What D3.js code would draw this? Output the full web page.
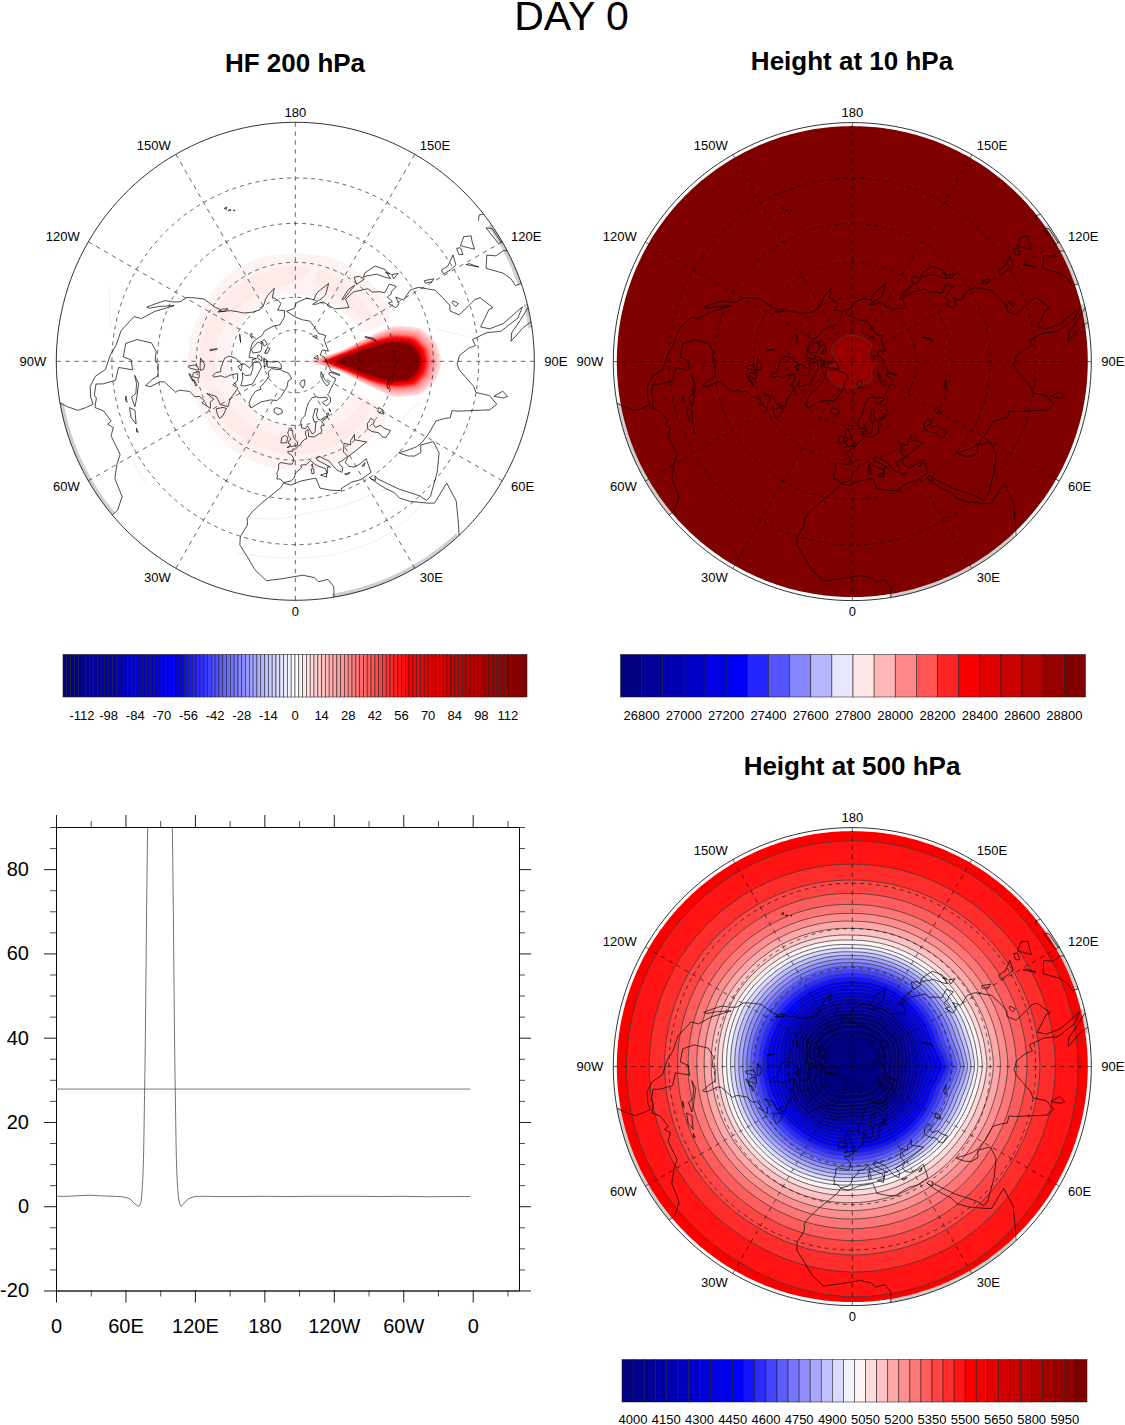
<!DOCTYPE html>
<html><head><meta charset="utf-8">
<script src="https://cdnjs.cloudflare.com/ajax/libs/d3/7.8.5/d3.min.js"></script>
<style>html,body{margin:0;padding:0;background:#fff}svg{display:block}text{font-family:"Liberation Sans",Arial,sans-serif;fill:#000}</style>
</head><body><script>
// ---------- coastlines [lon,lat] ----------
const coastEurasia=[[-5.5,36],[-6.3,36.6],[-7.4,37.2],[-8.9,37],[-8.8,38.5],[-9.4,38.8],[-8.8,41],[-9.2,43],[-8,43.7],[-4,43.4],[-1.8,43.4],[-1.2,44.5],[-1.1,46],[-2.2,47],[-4.7,48],[-4.7,48.6],[-1.6,48.7],[-1.6,49.7],[0.2,49.6],[1.6,50.8],[3.5,51.4],[4.5,52.5],[6.5,53.4],[8.6,53.9],[8.1,55.5],[8.2,57],[10.5,57.7],[10.4,56.2],[10,54.6],[12,54.2],[14.2,53.9],[18.6,54.7],[19.8,54.5],[21,55.5],[21,57],[22.5,57.7],[24.4,57.2],[24.2,58.4],[23.5,59.2],[28,59.5],[30,60],[28,60.5],[23,60],[21.4,60.8],[21.5,62.8],[25.3,65.2],[22.2,65.7],[21.2,64.8],[17.5,62.5],[17.2,60.7],[18.8,59.8],[16.6,57.5],[16,56.2],[14.3,55.5],[12.9,55.4],[12.6,56.3],[11.2,58.5],[10.6,59.3],[8.5,58.2],[5.6,58.7],[5,61],[6,62.5],[10,64],[14,67.5],[18,69.5],[25,71],[31,70.3],[33,69.4],[41,67.5],[40.5,66.4],[35,66.7],[33,66.5],[35,64.3],[38,64.5],[40.5,64.6],[44,66],[44,68],[46,68],[53,68.8],[60,69],[65,69],[67,69.5],[67,71],[69,73],[72.5,72.8],[72.5,71],[72,68],[73.5,68],[74,71.5],[75,72.5],[80,73.5],[87,75],[98,76],[104,77.7],[113,76],[107,73.5],[113,73.6],[127,72.8],[130,71],[140,72.7],[150,71.5],[160,69.7],[170,70],[180,69],[190,66],[181,65],[179,62.5],[170,60],[163,59.8],[163,58],[162,56],[156.8,51],[155.5,56],[157,58],[163,62],[160,61.5],[155,59.3],[143,59.3],[135,54.7],[141,53],[140,48.5],[135,43.5],[132,43.2],[129.7,41],[127.5,39.5],[129.4,36],[126.5,34.5],[126,37],[125,38],[125,39.7],[121.5,39],[122,40.7],[118,39],[119,37.2],[122.5,37],[119.5,35],[121.8,31],[121,28],[117,23.5],[113.5,22.3],[110,21],[108,21.5],[105.8,19],[109,13],[109,11.5],[105.2,8.8],[105,10],[100.5,13.5],[99.5,11],[100.3,7],[103.5,1.3],[101,3],[98.3,8],[98.5,12],[97,16.5],[95,15.8],[94.3,18],[92,21],[89,21.8],[87,21],[82,16],[80.2,15],[80,11],[78,8.5],[76,10],[73,19],[72.5,21],[70,20.8],[69,22.5],[67,24.8],[61,25.2],[57,25.7],[54.5,26.5],[51,28.5],[48.5,30],[50,26.7],[51.5,25],[54,24],[56.3,25.5],[59.8,22.5],[57.5,19],[52,16],[45,12.7],[43.3,12.7],[42.8,15],[39,21],[35,28],[34.8,29.5],[34,28],[33,29],[32.6,30]];
const coastMedNorth=[[32.3,31.2],[34.3,31.3],[36,36.5],[32,36.2],[29,36.3],[27,37.5],[26.3,39.5],[29,41],[31.5,41.2],[36,41.5],[41.5,41.5],[38,44.5],[37,45.4],[39,47],[35,46],[33.5,44.5],[30.7,46.5],[28,43.5],[28.9,41.2],[26,40.7],[23,40.5],[24,38],[22.8,36.5],[21,38],[19.4,41],[18.8,42.3],[14.5,45.2],[13.5,45.6],[12.3,45],[12.6,44],[16,41.8],[18.4,40],[16.9,40.4],[16,38],[15.6,40],[12.3,41.7],[10.5,42.9],[8.8,44.4],[6,43],[3.2,43],[3.2,41.8],[0,39.8],[-0.5,38],[-2,36.8],[-5.5,36]];
const coastAfrica=[[32.3,31.2],[29,31],[25,31.7],[20,31],[19.5,30.3],[15.5,31.5],[11,33.2],[10,37.2],[3,36.8],[-2,35.2],[-5.5,35.8],[-6.5,34],[-9.8,31],[-13,27.7],[-16,23.5],[-17,21],[-16.3,19],[-17.4,14.8],[-16.8,12.5],[-13.5,9.5],[-11,6.8],[-7.5,4.4],[-4,5.2],[2,6.3],[5,5.5],[6,4.3],[8.5,4.6],[9.7,2.5],[9.3,0],[9,-2]];
const coastAfricaEast=[[32.6,30],[33.8,27],[35.5,23.5],[37,21],[37.3,18.5],[39.5,15.5],[43.3,11.6],[44.5,10.5],[51.2,11.8],[49,6.5],[45,2],[41.5,-2]];
const coastNorthAmerica=[[-168,65.5],[-166,68.5],[-157,71.2],[-148,70.3],[-135,69.5],[-128,70],[-115,68],[-108,68],[-95,68],[-94,71.5],[-92,69.5],[-85,69.5],[-82,68],[-87,66],[-87,64.5],[-93,62],[-94.5,59],[-92.5,57],[-85,55.3],[-82,55],[-82,52.9],[-80,51.3],[-79,52],[-79,54.8],[-77,56.5],[-78,58.7],[-78,62.3],[-72,61.5],[-70,60],[-69.5,58.8],[-65,60.3],[-62,57.5],[-60,55],[-56,52.5],[-60,50.2],[-66,50.2],[-70,47],[-65,48.8],[-64.5,47],[-61,45.8],[-66,43.7],[-66.5,45],[-70,43.7],[-70.5,42],[-74,40.7],[-75.5,38],[-76,36.8],[-75.5,35.3],[-78,33.9],[-81,32],[-81.4,30.5],[-80.1,26.7],[-80.8,25.2],[-82.7,27.7],[-84,30],[-89,30.3],[-90,29.2],[-94,29.5],[-97.3,27.5],[-97.8,22.5],[-96,19],[-91.5,18.5],[-90.5,21],[-87,21.5],[-88,17],[-84,15.8],[-83.3,12],[-83.5,10],[-80.5,9.1],[-79.5,9.5],[-77,8.6],[-75.5,10.7],[-72,12],[-71.5,10.7],[-70,12],[-68,10.5],[-62,10.6],[-60,8.5],[-57,6],[-52,4.8],[-50,1.7],[-50,0],[-48,-0.7]];
const coastAmericaWest=[[-80.5,-1],[-80,0],[-78.8,1.5],[-77.3,4],[-77.5,6],[-78,8.3],[-80,8],[-83,8.3],[-85.7,10],[-87.5,13],[-92,14.5],[-95,16],[-100,17],[-105.5,20],[-105.5,22.5],[-109.5,26],[-112.5,29.5],[-114.7,31.7],[-112,27],[-110,24],[-110,23],[-112,25],[-115,28],[-116,31],[-117.3,33],[-120.5,34.5],[-122.5,37.5],[-124.3,40.4],[-124,46],[-124.7,48.4],[-122.5,48],[-125,50],[-128,52],[-130.5,54.5],[-133,57],[-137,58.8],[-140,59.8],[-146,60.7],[-150,60],[-152,59.2],[-154,58],[-158,56.5],[-164,54.7],[-160,58.5],[-162,59],[-165,61],[-166,62],[-161,64.5],[-168,65.5]];
const coastIslands=[
[[-73,78.2],[-68,76],[-60,75.5],[-55,72],[-54,69.5],[-51,69],[-53,66.5],[-51,63.5],[-48,60.8],[-43.5,59.9],[-40,65],[-33,68.2],[-25,69.5],[-22,72],[-20,75],[-18,77],[-20,80],[-12,81.5],[-30,83.5],[-50,82.5],[-62,81.8],[-65,80.5],[-73,78.2]],
[[-22.5,64],[-24,65.4],[-22,66.4],[-16,66.4],[-14,65],[-18,63.5],[-22.5,64]],
[[-5.5,50.1],[-3,50.7],[1.3,51.2],[1.7,52.7],[0,53.5],[-1.5,55],[-2,56],[-2,57.6],[-4,57.6],[-3,58.6],[-5,58.6],[-6,56.5],[-5,55],[-3,54],[-4.5,53.2],[-5,52],[-3,51.4],[-5.5,50.1]],
[[-6,52.2],[-10,51.7],[-10,54.2],[-8,55.2],[-5.7,54.6],[-6,52.2]],
[[-80,73.7],[-72,71.5],[-68,70],[-62,67],[-64,63.5],[-66,62],[-72,64],[-78,64.5],[-74,65.5],[-73,68],[-80,69.5],[-88,70],[-89,73],[-80,73.7]],
[[-117,70],[-105,68.5],[-101,69.5],[-105,72.7],[-110,73],[-118,72],[-117,70]],
[[-125,72],[-120,71.5],[-116,73.5],[-122,74.3],[-125,72]],
[[-90,76.5],[-78,76.5],[-75,79],[-62,82.5],[-75,83],[-90,82],[-88,79],[-90,76.5]],
[[-95,75],[-80,75],[-80,75.7],[-92,76.5],[-95,75]],
[[-117,75.2],[-105,75],[-106,76.2],[-117,76.3],[-117,75.2]],
[[-100,72],[-95,72],[-90,74],[-97,74],[-100,72]],
[[-87,65],[-80,64],[-85,63],[-87,65]],
[[-59,47.7],[-55.5,46.9],[-53,46.7],[-53,48.5],[-55.7,51.5],[-57.5,50.5],[-59,47.7]],
[[-85,22],[-82,23],[-77,21.5],[-74.2,20.2],[-77.7,19.9],[-78.5,21.5],[-82,22.3],[-85,22]],
[[-74.4,18.5],[-73,19.9],[-68.5,18.8],[-71,18],[-74.4,18.5]],
[[-78.4,18.2],[-76.3,18.2],[-77,17.8],[-78.4,18.2]],
[[-67.2,18.4],[-65.7,18.4],[-66,18],[-67.2,18.4]],
[[-156,19.5],[-155,19.6],[-155.7,20.2],[-156,19.5]],
[[-158.2,21.4],[-157.7,21.4],[-158,21.7],[-158.2,21.4]],
[[-157,21],[-156,20.8],[-156.5,20.6],[-157,21]],
[[-128,50.7],[-125,50],[-123.5,48.4],[-125.5,48.8],[-128,50.7]],
[[52,71],[57,70.7],[58,73.5],[68,76.7],[60,76],[55,74],[52,71]],
[[11,79],[16,76.7],[22,78],[27,80],[18,80.3],[11,79]],
[[95,79],[105,79],[100,81],[95,79]],
[[137,75],[145,75.5],[140,74],[137,75]],
[[142,46],[143.5,49],[143,54],[142,53.5],[142,46]],
[[140,41.7],[141.5,45.3],[145,43.5],[143,42],[140,41.7]],
[[132,34.3],[135.5,33.5],[140,35],[141.8,39.5],[141,41.3],[140,40],[137,37],[133,35.5],[131,34.3],[132,34.3]],
[[130,33.5],[132,33],[130.5,31],[130,33.5]],
[[132.5,33.3],[134.5,34.2],[134,33.5],[132.5,33.3]],
[[120.2,23],[121,25.2],[122,25],[120.8,22],[120.2,23]],
[[108.8,19.3],[110.5,20],[111,19.5],[109.5,18.2],[108.8,19.3]],
[[120.5,16],[120.5,18.5],[122,18.4],[122,16],[124,13],[121,13.8],[120.5,16]],
[[122,7],[125,9.7],[126.5,7.5],[125.5,5.8],[124,6.5],[122,7]],
[[122.5,10.5],[123.2,11.5],[125,11],[124.5,10],[122.5,10.5]],
[[117.2,8.4],[119.5,11.2],[119.3,10.3],[117.2,8.4]],
[[80,9.7],[81.8,7.5],[80.6,6],[80,7],[80,9.7]],
[[12.5,38],[15.6,38.2],[15.1,36.7],[12.5,38]],
[[8.3,41],[9.7,41],[9.6,39.2],[8.5,39],[8.3,41]],
[[8.7,42.5],[9.5,43],[9.4,41.5],[8.7,42.5]],
[[23.6,35.5],[26.3,35.2],[24.5,34.9],[23.6,35.5]],
[[32.4,35],[34.5,35.6],[33.5,34.7],[32.4,35]],
[[47,45],[49,46.5],[53,46.8],[53,45],[51,44.5],[50.5,43],[53,42],[53,40],[54,37.5],[50,37.3],[49,38.5],[49.5,40.5],[47.5,43],[47,45]],
[[58.5,46],[61,46.5],[61,44.5],[59,43.5],[58.5,46]],
[[73.5,46],[75,46.8],[79,46.5],[74,45.5],[73.5,46]],
[[-92,46.7],[-88,48.5],[-85,47.8],[-84.5,46.5],[-87,46.5],[-92,46.7]],
[[-87.5,41.7],[-88,45],[-85,46],[-85,45],[-86.5,42],[-87.5,41.7]],
[[-84,46],[-80,45.5],[-81.5,43],[-83.5,43.5],[-84,46]],
[[-83.3,41.7],[-79,42.8],[-79,43],[-83,42.2],[-83.3,41.7]],
[[-79.8,43.3],[-76.2,43.5],[-76.3,44.2],[-79.8,43.3]],
[[-98,50.5],[-97,50.5],[-99,53.5],[-98,50.5]],
[[-116,61],[-109,62.8],[-112,62],[-116,61]],
[[-123,65.5],[-118,66.8],[-120,65.2],[-123,65.5]],
[[104,51.6],[106,52],[109.5,55.5],[109,55.7],[106,53],[104,51.6]],
[[30,60],[33,61],[31,61.5],[30,60]],
[[35,61],[36,62.5],[35,62.5],[35,61]]];
const coastOpen=[
[[95.3,5.6],[97.5,5.2],[103,0],[104,-1]],[[95.3,5.6],[98.5,2],[100,-1]],
[[109,1.5],[111,2],[113,3.3],[116,6.8],[119,5],[117.7,3],[118,0.8],[117,-1]],[[109,1.5],[109,-0.5]],
[[120,-1],[120,0.3],[124,0.4],[125,1.5],[120,1]],[[127.5,2],[128.5,1],[128,0]]];

// ---------- map furniture ----------
const parallels=[15,30,45,60,75];
const meridians=[0,30,60,90,120,150,180,-150,-120,-90,-60,-30];
const meridianLabels=["0","30E","60E","90E","120E","150E","180","150W","120W","90W","60W","30W"];
const landRimArcs=[[-80,-50],[9,43],[109,125],[98,104]];

// ---------- colour ramp ----------
const rampStops=["#000080","#0000ff","#ffffff","#ff0000","#800000"];
const levelsHF=d3.range(-120,122,2);
const levels10=d3.range(26800,28900,100);
const levels500=d3.range(4000,6050,50);
const labelsHF=[-112,-98,-84,-70,-56,-42,-28,-14,0,14,28,42,56,70,84,98,112];
const labels10=[26800,27000,27200,27400,27600,27800,28000,28200,28400,28600,28800];
const labels500=[4000,4150,4300,4450,4600,4750,4900,5050,5200,5350,5500,5650,5800,5950];

// ---------- Height at 500 hPa: contour level and its latitude along 180 ----------
const z500Levels=[5500,5450,5400,5350,5300,5250,5200,5150,5100,5050,5000,4950,4900,4850,4800,4750,4700,4650,4600,4550,4500,4450,4400,4350,4300,4250,4200,4150,4100,4050,4000,3950,3900,3850,3800];
const z500Lats=[3.26,9.46,14.06,18.14,21.68,24.68,27.34,29.92,32.36,34.22,35.92,37.28,38.7,40.1,41.52,42.98,44.42,45.9,47.4,48.9,50.42,51.96,53.5,55.08,56.64,58.24,59.84,61.46,63.08,64.72,66.36,68.2,70.06,72.4,75.22];
const z500RimLat=0.85;
// radius of each contour relative to lon 180, at four reference levels
const warpLons=[-180,-150,-120,-90,-60,-30,0,30,60,75,90,105,120,150,180];
const warpLevels=[4000,4500,5000,5500];
const warpInner=[1,1.05,1.08,.9,1.05,1,.88,.95,1.02,.98,.95,1,1.06,1.05,1];
const warpMid=[1,1,1,1,.98,.96,.96,.96,.96,.96,1.05,.97,.98,1,1];
const warpOuter=[1,1.03,1.05,1.03,1.02,1,.97,.96,.98,1,1.03,1.02,1.01,1,1];
const warpRim=[1,1,1,1,1,1,1.02,1.02,1,1,1,1,1,1,1];

// ---------- Height at 10 hPa ----------
const z10InnerLon=[180,130.8,112.6,90,62.7,46.5,21.8,-8.7,-33.9,-61,-74.5,-90,-115.8,-142];
const z10InnerLat=[77.3,77.8,81.7,78.4,79.6,77.3,78,77.4,76.6,76.9,78.1,82.5,79,77.9];

// ---------- HF 200 hPa: ring values 2 and 4, teardrop around 90E ----------
const ringLon=[113,120,135,150,165,180,-165,-150,-135,-120,-105,-90,-75,-60,-45,-30,-15,0,15,30,45,55,62];
const ring2Outer=[45,41.5,41,40.6,41,41.4,41,40.6,41,41.8,41.5,41.4,41.5,41.8,41.5,41,41,40.9,40.6,40.6,41,41.4,44];
const ring2Inner=[56,57,58,58.5,58.7,58.7,58.7,59,59,59.2,59.5,59.5,59.8,60,60,60,60,60,60,60,60,60,59];
const ring4Segments=[
 {lon:[121,135,150,165],outer:[49,48.5,47.5,47],inner:[53,54,54.5,53]},
 {lon:[172,-175,-165,-150,-135,-120,-105,-90,-78],outer:[47,46.5,46.5,46.5,46.5,46.3,46.2,46.1,47],inner:[50,54.5,54.5,54.5,54,53.5,53,52.9,52]},
 {lon:[-72,-60,-45,-30,-15,0,15,30,45,60],outer:[48,47.5,47.3,47.3,47.3,47.3,47.3,47.5,48,49.5],inner:[52,53,54,54.5,54.5,54.5,54.5,54.5,54,53.5]}];
const dropLevels=[6,30,70,120];
const dropHalfLon=[[0,12.5,18.4,19.7,14.8,7.3,0],[0,11.3,15.4,15.4,11.8,5.6,0],[0,9.3,13,12.65,9.8,5,0],[0,7.1,10.1,10.6,8.4,3.9,0]];
const dropLat=[[82.8,68.16,54.76,42.94,33.18,28.52,27.16],[76.64,65.9,53.5,43.9,35.68,31.94,31.08],[74.28,63.76,52.98,44.42,37.56,34.6,33.66],[69.46,60.82,52.44,44.72,38.9,36.2,35.16]];
const faintContours=[[[-16,21.4],[-5,23],[4.3,25],[18,25],[30.6,24.6],[40,22]],[[-17,10],[-5,11],[10,11],[25,11],[35,12],[45,13]],[[60,36],[67,35],[72,32]],[[103,28],[100,22],[97,15]],[[-96,20],[-100,14],[-112,10]],[[-60,13],[-50,12]]];

// ---------- XY panel ----------
const hfLon=[0,10,20,30,40,50,58,64,68,71.7,73,74.8,76.6,79.2,83,87,90,93,97,100.5,103,104.8,106.5,108,110,114.3,118.6,125,140,160,180,200,220,240,260,280,300,320,340,358];
const hfValue=[2.35,2.35,2.5,2.6,2.45,2.35,2.2,1.7,.6,0,.6,5.7,28,90,140,165,172,165,140,90,28,5.7,1,0,.5,1.7,2.2,2.35,2.3,2.3,2.35,2.3,2.35,2.35,2.35,2.3,2.35,2.25,2.3,2.3];
const hfThresholdLon=[0,358];
const hfThreshold=[27.8,27.8];
const xMajor=[0,60,120,180,240,300,360];
const xMinor=[30,90,150,210,270,330,390];
const xLabels=["0","60E","120E","180","120W","60W","0"];
const yMajor=[-20,0,20,40,60,80];
const yMinor=[-15,-10,-5,5,10,15,25,30,35,45,50,55,65,70,75,85,90];

// ---------- drawing ----------
const W=1125,H=1425;
const svg=d3.select("body").append("svg").attr("width",W).attr("height",H).attr("viewBox",[0,0,W,H]);
const ramp=d3.scaleLinear().domain([0,.25,.5,.75,1]).range(rampStops).interpolate(d3.interpolateRgb);
const boxColor=(i,n)=>ramp(Math.max(i,0)/(n-1));
const R=239;

function txt(x,y,s,size,o={}){
  return svg.append("text").attr("x",x).attr("y",y).attr("text-anchor",o.anchor||"middle")
    .attr("font-size",size).attr("font-weight",o.bold?"bold":"normal").attr("dominant-baseline",o.base||"auto").text(s);
}

function makeMap(cx,cy){
  const projection=d3.geoStereographic().rotate([0,-90,0]).scale(R).translate([cx,cy]).clipAngle(90).precision(.3);
  const path=d3.geoPath(projection);
  const g=svg.append("g");
  const pt=(lon,lat)=>projection([lon,lat]);
  return {projection,path,g,pt,cx,cy};
}
function disc(m,lat,fill){
  m.g.append("path").datum(d3.geoCircle().center([0,90]).radius(90-lat).precision(1)()).attr("d",m.path).attr("fill",fill);
}
function landArcs(m){
  landRimArcs.forEach(a=>{
    const line=d3.range(a[0],a[1]+.01,1).map(l=>[l,0.45]);
    m.g.append("path").datum({type:"LineString",coordinates:line}).attr("d",m.path)
      .attr("fill","none").attr("stroke","#cfcfcf").attr("stroke-width",3.6);
  });
}
function furniture(m,gridColor){
  const g=m.g;
  parallels.forEach(lat=>{
    g.append("path").datum(d3.geoCircle().center([0,90]).radius(90-lat).precision(1)()).attr("d",m.path)
     .attr("fill","none").attr("stroke",gridColor).attr("stroke-width",.6).attr("stroke-dasharray","4 4");
  });
  meridians.forEach(lon=>{
    const top=(lon%90===0)?90:75;
    g.append("path").datum({type:"LineString",coordinates:[[lon,0],[lon,top]]}).attr("d",m.path)
     .attr("fill","none").attr("stroke",gridColor).attr("stroke-width",.6).attr("stroke-dasharray","4.5 4.5");
  });
  const coast=[coastEurasia,coastMedNorth,coastAfrica,coastAfricaEast,coastNorthAmerica,coastAmericaWest,...coastIslands,...coastOpen];
  g.append("path").datum({type:"MultiLineString",coordinates:coast}).attr("d",m.path)
   .attr("fill","none").attr("stroke","#000").attr("stroke-width",.7).attr("stroke-linejoin","round");
  g.append("path").datum({type:"Sphere"}).attr("d",m.path).attr("fill","none").attr("stroke","#000").attr("stroke-width",.8);
  meridians.forEach((lon,i)=>{
    const p=m.pt(lon,0),a=lon*Math.PI/180,sx=Math.sin(a),cy=Math.cos(a);
    let x=p[0],y=p[1],anchor="middle";
    if(Math.abs(sx)<.01){y+=cy>0?11:-10;}
    else{
      anchor=sx>0?"start":"end";
      x+=(sx>0?1:-1)*Math.max(5,10*Math.abs(sx));
      y+=10.5*cy;
    }
    g.append("text").attr("x",x).attr("y",y).attr("text-anchor",anchor).attr("dominant-baseline","central")
     .attr("font-size",13).text(meridianLabels[i]);
  });
}
function colorbar(x0,x1,y0,y1,levels,labels,labelY){
  const n=levels.length+1;
  const x=d3.scaleLinear().domain([0,n]).range([x0,x1]);
  const tick=d3.scaleLinear().domain([levels[0],levels[levels.length-1]]).range([x(1),x(n-1)]);
  svg.append("g").selectAll("rect").data(d3.range(n)).join("rect")
    .attr("x",d=>x(d)).attr("y",y0).attr("width",(x1-x0)/n).attr("height",y1-y0)
    .attr("fill",d=>boxColor(d,n)).attr("stroke","#1a1a1a").attr("stroke-opacity",.75).attr("stroke-width",.7);
  labels.forEach(l=>txt(tick(l),labelY,l,13,{base:"central"}));
}

// ----- Panel 1
txt(571.5,30,"DAY 0",41);
txt(295,72,"HF 200 hPa",26,{bold:true});
const m1=makeMap(295.3,361.3);
landArcs(m1);
m1.g.append("path").datum({type:"MultiLineString",coordinates:faintContours}).attr("d",m1.path)
  .attr("fill","none").attr("stroke","#e4e4e4").attr("stroke-width",.6);
const closed=d3.line().curve(d3.curveCardinalClosed.tension(.3));
const hfN=levelsHF.length+1;
const hfBox=l=>boxColor((l+120)/2+1,hfN);
m1.g.append("path").attr("fill",hfBox(2)).attr("d",closed([
  ...ringLon.map((l,i)=>m1.pt(l,ring2Outer[i])),
  ...ringLon.map((l,i)=>m1.pt(l,ring2Inner[i])).reverse()]));
ring4Segments.forEach(s=>{
  m1.g.append("path").attr("fill",hfBox(4)).attr("d",closed([
    ...s.lon.map((l,i)=>m1.pt(l,s.outer[i])),
    ...s.lon.map((l,i)=>m1.pt(l,s.inner[i])).reverse()]));
});
const dropPoly=L=>{
  const at=(tbl,j)=>d3.scaleLinear().domain(dropLevels).range(tbl.map(r=>r[j]))(L);
  const st=d3.range(7).map(j=>[at(dropHalfLon,j),at(dropLat,j)]);
  return [...st.map(s=>m1.pt(90+s[0],s[1])),...st.slice(1,6).reverse().map(s=>m1.pt(90-s[0],s[1]))];
};
const dropCurve=d3.line().curve(d3.curveCardinalClosed.tension(.45));
levelsHF.filter(l=>l>=6).forEach(L=>{
  m1.g.append("path").attr("fill",hfBox(L)).attr("d",dropCurve(dropPoly(L)));
});
furniture(m1,"#000");
colorbar(63,527,654.5,697,levelsHF,labelsHF,715);

// ----- Panel 2
txt(852,70,"Height at 10 hPa",26,{bold:true});
const m2=makeMap(852.3,361.6);
landArcs(m2);
const n10=levels10.length+1;
disc(m2,z500RimLat,boxColor(n10-1,n10));
m2.g.append("path").attr("fill",boxColor(n10-2,n10)).attr("stroke","#444").attr("stroke-width",.7)
  .attr("d",d3.line().curve(d3.curveCatmullRomClosed)(z10InnerLon.map((l,i)=>m2.pt(l,z10InnerLat[i]))));
furniture(m2,"#000");
colorbar(620.5,1085.5,654.5,697,levels10,labels10,715);

// ----- Panel 4
txt(852,775,"Height at 500 hPa",26,{bold:true});
const m4=makeMap(852.3,1066.6);
landArcs(m4);
const n500=levels500.length+1;
disc(m4,z500RimLat,boxColor((5500-4000)/50+1,n500));
const warpAt=tbl=>d3.scaleLinear().domain(warpLons).range(tbl);
const warpT=[warpAt(warpInner),warpAt(warpMid),warpAt(warpOuter),warpAt(warpRim)];
const contourLons=d3.range(-180,180,5);
const contourCurve=d3.line().curve(d3.curveCatmullRomClosed);
z500Levels.forEach((L,i)=>{
  const pts=contourLons.map(lon=>{
    const f=d3.scaleLinear().domain(warpLevels).range(warpT.map(w=>w(lon))).clamp(true)(L);
    const lat=90-2*Math.atan(f*Math.tan((90-z500Lats[i])*Math.PI/360))*180/Math.PI;
    return m4.pt(lon,lat);
  });
  m4.g.append("path").attr("fill",boxColor((L-4000)/50,n500)).attr("stroke",L<=4300?"#2a2a4a":"#3a3a3a").attr("stroke-width",L<=4700?.5:.75)
    .attr("d",contourCurve(pts));
});
furniture(m4,"#000");
colorbar(622,1087,1359.5,1402,levels500,labels500,1419);

// ----- Panel 3
const px=d3.scaleLinear().domain([0,400]).range([56,519]);
const py=d3.scaleLinear().domain([-20,90]).range([1290.5,827]);
const ax=svg.append("g");
function axis(gen,translate,major,minor,fmt,pad){
  const t=ax.append("g").attr("transform",translate);
  t.call(gen.tickValues(major).tickSizeInner(12).tickSizeOuter(0).tickPadding(pad).tickFormat(fmt));
  const t2=ax.append("g").attr("transform",translate);
  t2.call(gen.tickValues(minor).tickSizeInner(6).tickSizeOuter(0).tickFormat(""));
  t.selectAll("path,line").attr("stroke","#000").attr("stroke-width",.9);
  t2.selectAll("path,line").attr("stroke","#000").attr("stroke-width",.7);
  t.attr("font-family","Liberation Sans").attr("font-size",20);
  t.selectAll("text").attr("fill","#000");
}
axis(d3.axisLeft(py),"translate(56,0)",yMajor,yMinor,d=>d,15);
axis(d3.axisRight(py),"translate(519,0)",yMajor,yMinor,"",0);
axis(d3.axisTop(px),"translate(0,827)",xMajor,xMinor,"",0);
axis(d3.axisBottom(px),"translate(0,1290.5)",xMajor,xMinor,(d,i)=>xLabels[i],16);
svg.append("defs").append("clipPath").attr("id","plotClip").append("rect").attr("x",56).attr("y",827).attr("width",463).attr("height",463.5);
const line=d3.line().x(d=>px(d[0])).y(d=>py(d[1])).curve(d3.curveCatmullRom);
const plot=svg.append("g").attr("clip-path","url(#plotClip)");
plot.append("path").attr("d",line(hfThresholdLon.map((l,i)=>[l,hfThreshold[i]]))).attr("fill","none").attr("stroke","#777").attr("stroke-width",1);
plot.append("path").attr("d",line(hfLon.map((l,i)=>[l,hfValue[i]]))).attr("fill","none").attr("stroke","#333").attr("stroke-width",.7);
</script></body></html>
